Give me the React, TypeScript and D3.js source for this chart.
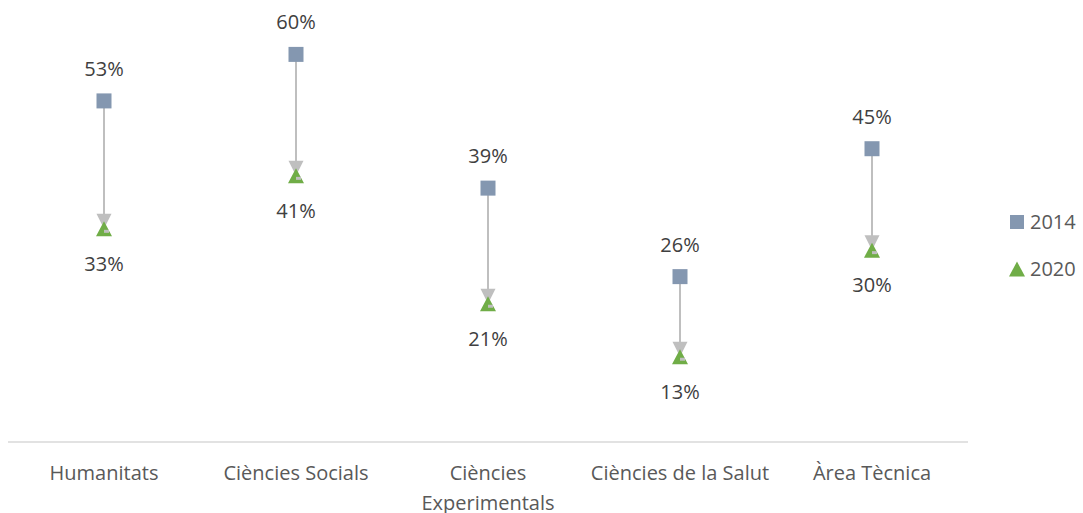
import React from "react";
import * as d3 from "d3";

const categories = ["Humanitats", "Ciències Socials", "Ciències Experimentals", "Ciències de la Salut", "Àrea Tècnica"];
const categoryLines = [["Humanitats"], ["Ciències Socials"], ["Ciències", "Experimentals"], ["Ciències de la Salut"], ["Àrea Tècnica"]];
const values2014 = [52.8, 60.0, 39.3, 25.6, 45.4];
const values2020 = [33.0, 41.2, 21.4, 13.2, 29.7];
const seriesNames = ["2014", "2020"];

const W = 1083;
const H = 513;
const FONT = "'Open Sans', sans-serif";

function triPath(cx: number, cy: number, w: number, h: number) {
  return `M${cx},${cy - h / 2} L${cx + w / 2},${cy + h / 2} L${cx - w / 2},${cy + h / 2} Z`;
}

export default function App() {
  const x = d3.scaleBand<string>().domain(categories).range([8, 968]);
  const y = d3.scaleLinear().domain([0, 60]).range([442, 54.4]);
  const cx = (c: string) => (x(c) as number) + x.bandwidth() / 2;
  const sq = 15;
  const arrowLen = 15;
  const arrowHalf = 7.5;

  return (
    <svg width={W} height={H} style={{ position: "absolute", left: 0, top: 0, background: "#fff" }}>
      <line x1={8} x2={968} y1={y(0)} y2={y(0)} stroke="#d9d9d9" strokeWidth={1.5} />
      {categories.map((c, i) => {
        const X = cx(c);
        const y1 = y(values2014[i]);
        const y2 = y(values2020[i]);
        return (
          <g key={c}>
            <line x1={X} x2={X} y1={y1} y2={y2 - arrowLen + 2} stroke="#bfbfbf" strokeWidth={2} />
            <path d={`M${X - arrowHalf},${y2 - arrowLen} L${X + arrowHalf},${y2 - arrowLen} L${X},${y2} Z`} fill="#bfbfbf" />
            <rect x={X - sq / 2} y={y1 - sq / 2} width={sq} height={sq} fill="#8497b0" />
            <path d={triPath(X, y2, 16, 15)} fill="#70ad47" />
            <rect x={X} y={y2 + 1} width={5} height={3} fill="#bfbfbf" />
            <text x={X} y={y1 - 25} textAnchor="middle" fontFamily={FONT} fontSize={20} fill="#404040">
              {Math.round(values2014[i])}%
            </text>
            <text x={X} y={y2 + 42} textAnchor="middle" fontFamily={FONT} fontSize={20} fill="#404040">
              {Math.round(values2020[i])}%
            </text>
            <text x={X} y={480} textAnchor="middle" fontFamily={FONT} fontSize={20} fill="#595959">
              {categoryLines[i].map((l, k) => (
                <tspan key={k} x={X} dy={k === 0 ? 0 : 30}>{l}</tspan>
              ))}
            </text>
          </g>
        );
      })}
      <g>
        <rect x={1010} y={215} width={14} height={14} fill="#8497b0" />
        <text x={1030} y={229} fontFamily={FONT} fontSize={20} fill="#595959">{seriesNames[0]}</text>
        <path d={triPath(1017, 269, 16, 15)} fill="#70ad47" />
        <text x={1030} y={276} fontFamily={FONT} fontSize={20} fill="#595959">{seriesNames[1]}</text>
      </g>
    </svg>
  );
}
